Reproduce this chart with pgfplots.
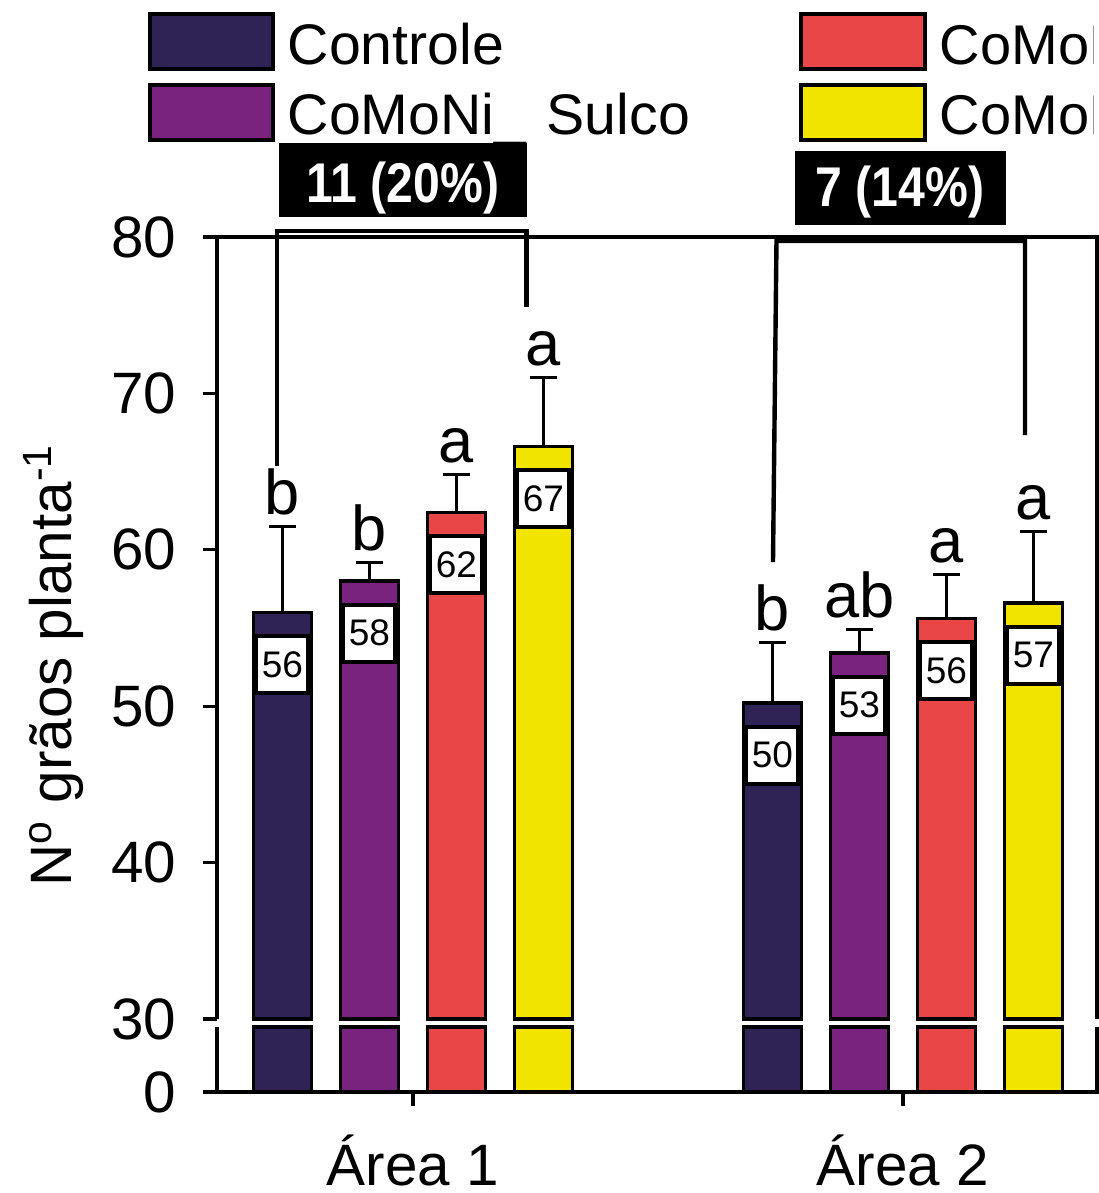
\documentclass[border=0pt]{standalone}
\usepackage{pgfplots}
\usepackage{pgfplotstable}
\pgfplotsset{compat=1.18}
\usepackage{fontspec}
\setmainfont{Liberation Sans}
\newfontfamily\condfont[FakeStretch=0.86]{Liberation Sans}

\definecolor{cCtrl}{HTML}{2F2255}
\definecolor{cSulco}{HTML}{7A237E}
\definecolor{cSem}{HTML}{E94648}
\definecolor{cFol}{HTML}{F1E500}

% x = area (1, 2); v = mean; e = upper error; lab = letter of the test
\pgfplotstableread{
x v    e    lab
1 56.0 5.5  b
2 50.2 3.9  b
}\tblCtrl
\pgfplotstableread{
x v    e    lab
1 58.0 1.2  b
2 53.4 1.5  ab
}\tblSulco
\pgfplotstableread{
x v    e    lab
1 62.4 2.4  a
2 55.6 2.85 a
}\tblSem
\pgfplotstableread{
x v    e    lab
1 66.6 4.4  a
2 56.6 4.6  a
}\tblFol

\newcommand{\bigfont}{\fontsize{14.6}{17}\selectfont}

\pgfplotsset{
  brokenbase/.style={
    scale only axis, width=220pt, xmin=0.6, xmax=2.396,
    ybar, bar width=14.6pt, clip=false,
    axis line style={draw=none},
    tick align=outside, major tick length=3.5pt,
    every tick/.style={black, line width=0.8pt},
    ticklabel style={font=\bigfont},
    /pgf/number format/assume math mode=true,
  },
  series/.style={fill=#1, draw=black, line width=0.875pt},
  witherr/.style={
    error bars/y dir=plus, error bars/y explicit,
    error bars/error bar style={line width=0.75pt, black},
    error bars/error mark options={rotate=90, mark size=3.4pt, line width=0.75pt, black},
    nodes near coords={\pgfmathprintnumber[fixed,precision=0]{\pgfplotspointmeta}},
    point meta=explicit,
    nodes near coords style={anchor=center, yshift=-13pt, fill=white, draw=black,
      line width=1pt, minimum width=13pt, minimum height=14.25pt, inner sep=0pt,
      font=\fontsize{9.25}{10}\selectfont},
  },
  letters/.style={draw=none, fill=none, point meta=explicit symbolic,
    nodes near coords,
    nodes near coords style={anchor=base, inner sep=0pt, yshift=3pt,
      font=\fontsize{15.8}{18}\selectfont}},
}

\begin{document}
\begin{tikzpicture}[x=0.25pt, y=-0.25pt]
\path[use as bounding box] (0,0) rectangle (1099,1193);

% upper part of the broken axis: 30 to 80
\begin{axis}[brokenbase, at={(54.25pt,-254.75pt)}, anchor=south west, height=195.5pt,
  ymin=0, ymax=50, y filter/.expression={y-30},
  xtick=\empty, ytick={0,10,...,50}, ytick pos=left,
  yticklabel={\pgfmathparse{\tick+30}\pgfmathprintnumber[fixed,precision=0]{\pgfmathresult}},
  yticklabel style={anchor=east, inner sep=0pt, xshift=-6.5pt},
]
\addplot[series=cCtrl,  bar shift=-32.625pt, witherr] table[x=x, y=v, y error=e, meta=v]{\tblCtrl};
\addplot[series=cSulco, bar shift=-10.875pt, witherr] table[x=x, y=v, y error=e, meta=v]{\tblSulco};
\addplot[series=cSem,   bar shift=10.875pt,  witherr] table[x=x, y=v, y error=e, meta=v]{\tblSem};
\addplot[series=cFol,   bar shift=32.625pt,  witherr] table[x=x, y=v, y error=e, meta=v]{\tblFol};

\addplot[letters, bar shift=-32.625pt] table[x=x, y expr=\thisrow{v}+\thisrow{e}, meta=lab]{\tblCtrl};
\addplot[letters, bar shift=-10.875pt] table[x=x, y expr=\thisrow{v}+\thisrow{e}, meta=lab]{\tblSulco};
\addplot[letters, bar shift=10.875pt]  table[x=x, y expr=\thisrow{v}+\thisrow{e}, meta=lab]{\tblSem};
\addplot[letters, bar shift=32.625pt]  table[x=x, y expr=\thisrow{v}+\thisrow{e}, meta=lab]{\tblFol};

\draw[line width=0.9pt, line join=miter] (rel axis cs:0,0) -- (rel axis cs:0,1)
  -- (rel axis cs:1,1) -- (rel axis cs:1,0);
\end{axis}

% lower stub of the broken axis: 0 to the break
\begin{axis}[brokenbase, at={(54.25pt,-273pt)}, anchor=south west, height=16.25pt,
  ymin=0, ymax=29.5, restrict y to domain*=0:29.5,
  ytick={0}, ytick pos=left, xtick={1,2}, xtick pos=left,
  xticklabels={Área 1, Área 2},
  yticklabel style={anchor=east, inner sep=0pt, xshift=-6.5pt},
  xticklabel style={anchor=base, inner sep=0pt, yshift=-19.75pt},
]
\addplot[series=cCtrl,  bar shift=-32.625pt] table[x=x, y=v]{\tblCtrl};
\addplot[series=cSulco, bar shift=-10.875pt] table[x=x, y=v]{\tblSulco};
\addplot[series=cSem,   bar shift=10.875pt]  table[x=x, y=v]{\tblSem};
\addplot[series=cFol,   bar shift=32.625pt]  table[x=x, y=v]{\tblFol};
\draw[line width=0.9pt, line join=miter] (rel axis cs:0,1) -- (rel axis cs:0,0)
  -- (rel axis cs:1,0) -- (rel axis cs:1,1);
\end{axis}

% y label
\node[rotate=90, anchor=base, font=\bigfont] at (72,665) {N\textsuperscript{o} grãos planta\textsuperscript{-1}};

% legend
\begin{scope}[line width=1pt]
  \draw[fill=cCtrl]  (150,14) rectangle (273,69);
  \draw[fill=cSulco] (150,85) rectangle (273,140);
  \draw[fill=cSem]   (801,14) rectangle (925,69);
  \draw[fill=cFol]   (801,85) rectangle (925,140);
\end{scope}
\begin{scope}[every node/.style={anchor=base west, inner sep=0pt, font=\fontsize{14.3}{16}\selectfont}]
  \node at (287,64) {Controle};
  \node at (287,134) {CoMoNi\_\hspace{1.2pt} Sulco};
\end{scope}
\begin{scope}[every node/.style={anchor=base west, inner sep=0pt, font=\fontsize{14}{16}\selectfont}]
  \clip (0,0) rectangle (1094,1193);
  \node at (939,64) {CoMoNi\_ Semente};
  \node at (939,134) {CoMoNi\_ Foliar};
\end{scope}

% gain of the best treatment over the control
\begin{scope}[line width=1.1pt, line join=miter]
  \draw (277,466) -- (277,231) -- (526.5,231) -- (526.5,307);
  \draw (773,562) -- (776.5,241) -- (1025,241) -- (1025,435);
\end{scope}
\fill[black] (279,143) rectangle (527,217);
\fill[black] (795,151) rectangle (1006,225);
\node[anchor=base, inner sep=0pt, text=white, font=\condfont\bfseries\fontsize{14}{16}\selectfont] at (403,202) {11 (20\%)};
\node[anchor=base, inner sep=0pt, text=white, font=\condfont\bfseries\fontsize{14}{16}\selectfont] at (900,206) {7 (14\%)};
\end{tikzpicture}
\end{document}
